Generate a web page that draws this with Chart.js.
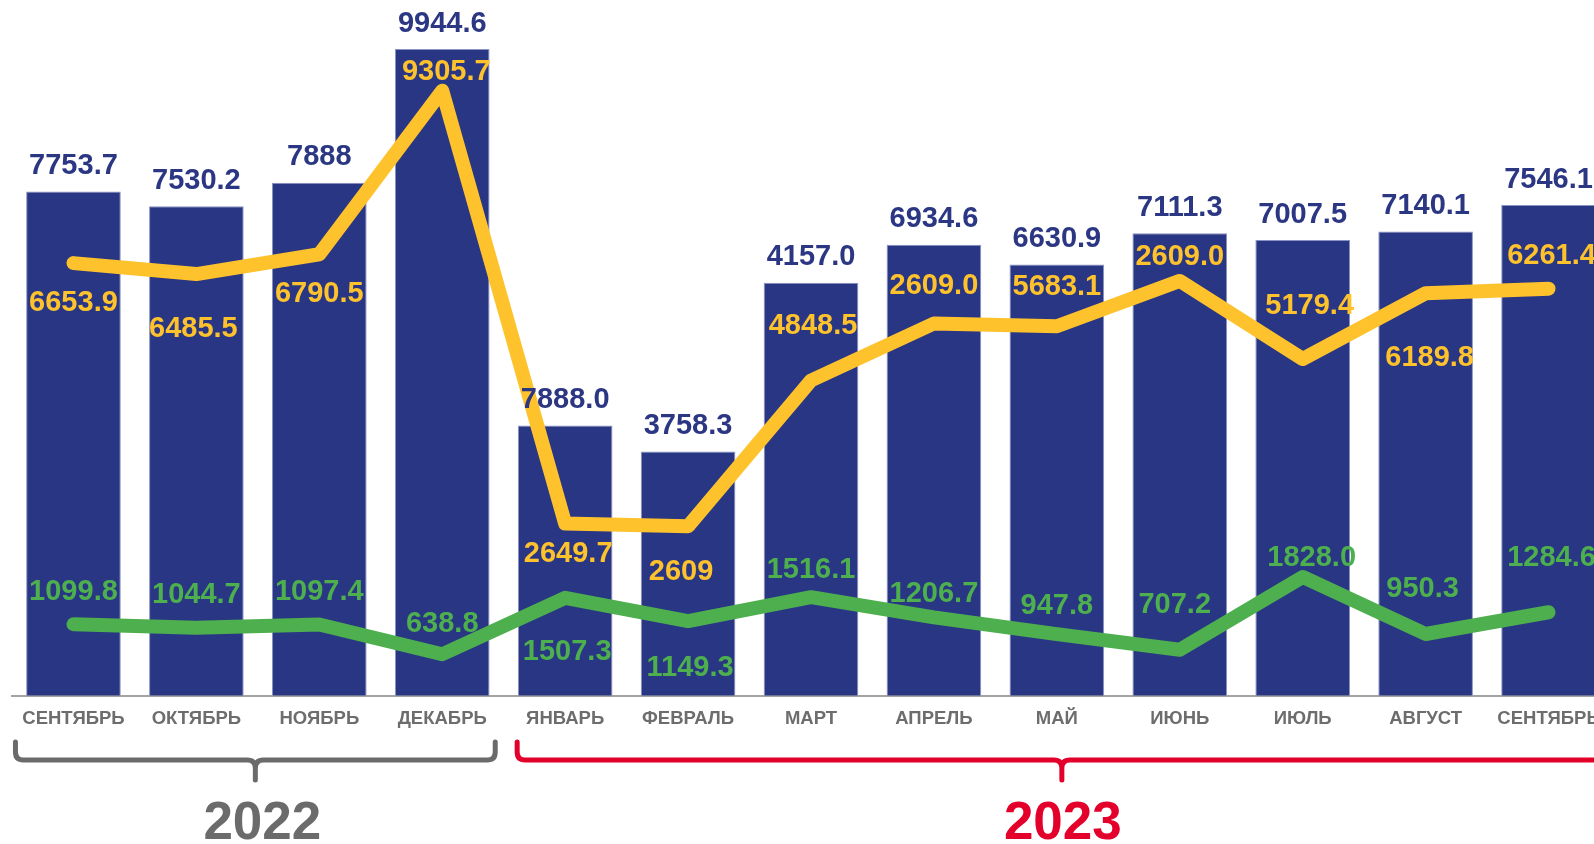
<!DOCTYPE html>
<html><head><meta charset="utf-8">
<script src="https://cdn.jsdelivr.net/npm/chart.js@4"></script>
<style>
html,body{margin:0;padding:0;background:#fff;overflow:hidden;width:1594px;height:844px}
#wrap{width:1594px;height:844px;overflow:hidden;position:relative}
canvas{position:absolute;left:0;top:0}
</style></head><body>
<div id="wrap"><canvas id="c" width="1620" height="844"></canvas></div>
<script>
const categories = ['СЕНТЯБРЬ','ОКТЯБРЬ','НОЯБРЬ','ДЕКАБРЬ','ЯНВАРЬ','ФЕВРАЛЬ','МАРТ','АПРЕЛЬ','МАЙ','ИЮНЬ','ИЮЛЬ','АВГУСТ','СЕНТЯБРЬ'];
const totalValues = [7753.7, 7530.2, 7888, 9944.6, 4157.0, 3758.3, 6350, 6934.6, 6630.9, 7111.3, 7007.5, 7140.1, 7546.1];
const totalLabels = ['7753.7','7530.2','7888','9944.6','7888.0','3758.3','4157.0','6934.6','6630.9','7111.3','7007.5','7140.1','7546.1'];
const yellowValues = [6653.9, 6485.5, 6790.5, 9305.7, 2649.7, 2609, 4848.5, 5725, 5683.1, 6380, 5179.4, 6189.8, 6261.4];
const yellowLabels = ['6653.9','6485.5','6790.5','9305.7','2649.7','2609','4848.5','2609.0','5683.1','2609.0','5179.4','6189.8','6261.4'];
const greenValues = [1099.8, 1044.7, 1097.4, 638.8, 1507.3, 1149.3, 1516.1, 1206.7, 947.8, 707.2, 1828.0, 950.3, 1284.6];
const greenLabels = ['1099.8','1044.7','1097.4','638.8','1507.3','1149.3','1516.1','1206.7','947.8','707.2','1828.0','950.3','1284.6'];
const years = ['2022','2023'];
const yearFirst = [0, 4];
const yearLast = [3, 12];

const FONT = '"Liberation Sans", Arial, sans-serif';

const labelPlugin = {
  id: 'valueLabels',
  afterDatasetsDraw(chart) {
    const ctx = chart.ctx;
    chart.data.datasets.forEach((ds, di) => {
      const meta = chart.getDatasetMeta(di);
      if (!ds.valueLabels) return;
      ctx.save();
      ctx.font = 'bold 29px ' + FONT;
      ctx.textAlign = 'center';
      ctx.textBaseline = 'middle';
      ctx.fillStyle = ds.labelColor;
      meta.data.forEach((el, i) => {
        const dx = ds.labelDx ? ds.labelDx[i] : 0;
        const dy = Array.isArray(ds.labelDy) ? ds.labelDy[i] : ds.labelDy;
        ctx.fillText(ds.valueLabels[i], el.x + dx, el.y + dy + 2.5);
      });
      ctx.restore();
    });
  }
};

const yearPlugin = {
  id: 'yearBrackets',
  afterDraw(chart, args, o) {
    const xs = chart.scales.x;
    const ctx = chart.ctx;
    years.forEach((yr, g) => {
      const L = xs.getPixelForValue(yearFirst[g]) - o.insetLeft[g];
      const R = xs.getPixelForValue(yearLast[g]) + o.insetRight[g];
      const C = (L + R) / 2;
      const top = o.top, mid = o.mid, bot = o.bottom, r = 8;
      ctx.save();
      ctx.strokeStyle = o.colors[g];
      ctx.lineWidth = 5;
      ctx.lineCap = 'round';
      ctx.lineJoin = 'round';
      ctx.beginPath();
      ctx.moveTo(L, top);
      ctx.lineTo(L, mid - r);
      ctx.quadraticCurveTo(L, mid, L + r, mid);
      ctx.lineTo(C - r, mid);
      ctx.quadraticCurveTo(C, mid, C, mid + r);
      ctx.lineTo(C, bot);
      ctx.moveTo(C, mid + r);
      ctx.quadraticCurveTo(C, mid, C + r, mid);
      ctx.lineTo(R - r, mid);
      ctx.quadraticCurveTo(R, mid, R, mid - r);
      ctx.lineTo(R, top);
      ctx.stroke();
      ctx.fillStyle = o.colors[g];
      ctx.font = 'bold 53px ' + FONT;
      ctx.textAlign = 'center';
      ctx.textBaseline = 'middle';
      ctx.fillText(yr, C + o.textDx[g], o.textY);
      ctx.restore();
    });
  }
};

new Chart(document.getElementById('c'), {
  type: 'bar',
  data: {
    labels: categories,
    datasets: [
      {
        type: 'line', data: greenValues, order: 1,
        borderColor: '#4daf4e', borderWidth: 14, pointRadius: 0, tension: 0,
        borderCapStyle: 'round', borderJoinStyle: 'round',
        valueLabels: greenLabels, labelColor: '#4daf4e',
        labelDy: [-35,-35,-35,-33,52,44,-30,-26,-31,-47,-21,-48,-57],
        labelDx: [0,0,0,0,2,2,0,0,0,-5,9,-3,3]
      },
      {
        type: 'line', data: yellowValues, order: 2,
        borderColor: '#fec22d', borderWidth: 14, pointRadius: 0, tension: 0,
        borderCapStyle: 'round', borderJoinStyle: 'round',
        valueLabels: yellowLabels, labelColor: '#fec22d',
        labelDy: [37,52,37,-21,28,43,-57,-40,-42,-26,-55,62,-35],
        labelDx: [0,-3,0,4,3,-7,2,0,0,0,7,4,3]
      },
      {
        type: 'bar', data: totalValues, order: 3,
        backgroundColor: '#293683', borderColor: '#8a92c2', borderWidth: 1,
        barPercentage: 0.77, categoryPercentage: 1.0,
        valueLabels: totalLabels, labelColor: '#2b3783', labelDy: -28
      }
    ]
  },
  options: {
    responsive: false,
    devicePixelRatio: 1,
    animation: false,
    layout: { padding: { left: 12, right: 10, top: 0, bottom: 102 } },
    plugins: {
      legend: { display: false },
      tooltip: { enabled: false },
      yearBrackets: {
        insetLeft: [58, 48], insetRight: [53, 58],
        top: 742, mid: 760, bottom: 780, textY: 824, textDx: [7, 1],
        colors: ['#6b6b6b', '#e3002b']
      }
    },
    scales: {
      x: {
        offset: true,
        grid: { display: false, drawTicks: false },
        border: { display: true, color: '#a3a3a3', width: 2 },
        ticks: { color: '#6d6d6d', padding: 12, maxRotation: 0, autoSkip: false,
                 font: { family: FONT, size: 18.5, weight: 'bold' } }
      },
      y: { display: false, min: 0, max: 10700 }
    }
  },
  plugins: [labelPlugin, yearPlugin]
});
</script>
</body></html>
